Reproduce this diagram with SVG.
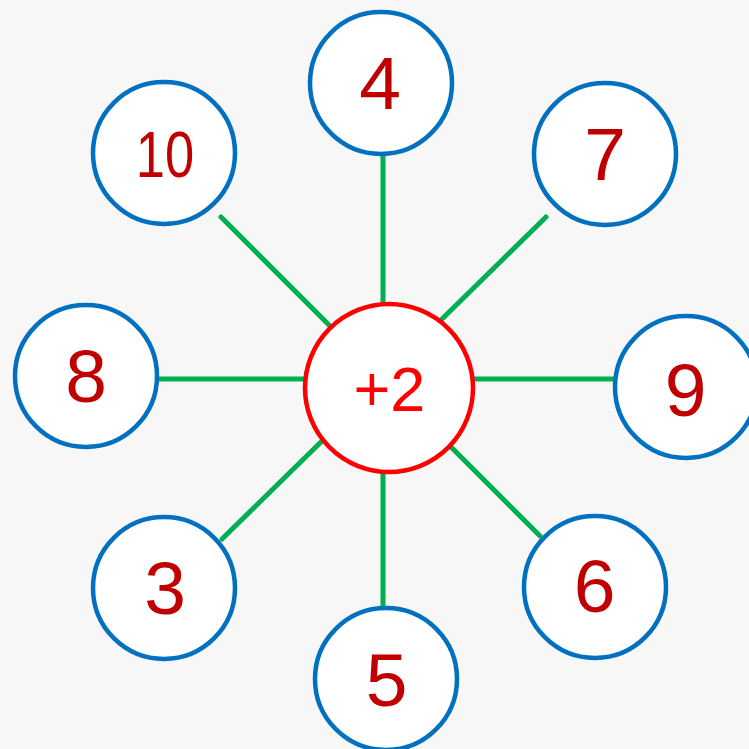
<svg xmlns="http://www.w3.org/2000/svg" width="749" height="749" viewBox="0 0 749 749">
<style>
.bg{fill:#f7f7f7}
.node{fill:#ffffff;stroke:#0070c0;stroke-width:4.5}
.hub{fill:#ffffff;stroke:#ff0000;stroke-width:4.5}
.lbl{font-family:"Liberation Sans",Arial,sans-serif;font-size:75px;fill:#c00000;text-anchor:middle}
.hubl{font-family:"Liberation Sans",Arial,sans-serif;font-size:63px;fill:#ff0000;text-anchor:middle}
.conn line{stroke:#00b050;stroke-width:5;stroke-linecap:round}
</style>
<rect class="bg" x="0" y="0" width="749" height="749"/>
<g id="connectors" class="conn">
<line x1="383" y1="155" x2="383" y2="304"/>
<line x1="221" y1="217" x2="331" y2="327"/>
<line x1="546" y1="217" x2="441" y2="320"/>
<line x1="158" y1="379" x2="305" y2="379"/>
<line x1="473" y1="379" x2="613" y2="379"/>
<line x1="222" y1="539" x2="324" y2="439"/>
<line x1="450" y1="446" x2="540" y2="536"/>
<line x1="383" y1="472" x2="383" y2="607"/>
</g>
<g id="hub">
<circle class="hub" cx="389" cy="388" r="84"/>
<text class="hubl" x="389.5" y="411">+2</text>
</g>
<g id="n4">
<circle class="node" cx="381" cy="83" r="71"/>
<text class="lbl" x="380" y="109">4</text>
</g>
<g id="n10">
<circle class="node" cx="164" cy="153" r="71"/>
<text class="lbl" style="font-size:64px" transform="translate(165,177) scale(0.82,1)" x="0" y="0">10</text>
</g>
<g id="n7">
<circle class="node" cx="605" cy="154" r="71"/>
<text class="lbl" x="605" y="180">7</text>
</g>
<g id="n8">
<circle class="node" cx="86" cy="376" r="71"/>
<text class="lbl" x="86" y="402">8</text>
</g>
<g id="n9">
<circle class="node" cx="686" cy="387" r="71"/>
<text class="lbl" x="685.5" y="416">9</text>
</g>
<g id="n3">
<circle class="node" cx="164" cy="588" r="71"/>
<text class="lbl" x="165" y="614">3</text>
</g>
<g id="n6">
<circle class="node" cx="595" cy="587" r="71"/>
<text class="lbl" x="594.5" y="612">6</text>
</g>
<g id="n5">
<circle class="node" cx="386" cy="679" r="71"/>
<text class="lbl" x="386.5" y="706">5</text>
</g>
</svg>
